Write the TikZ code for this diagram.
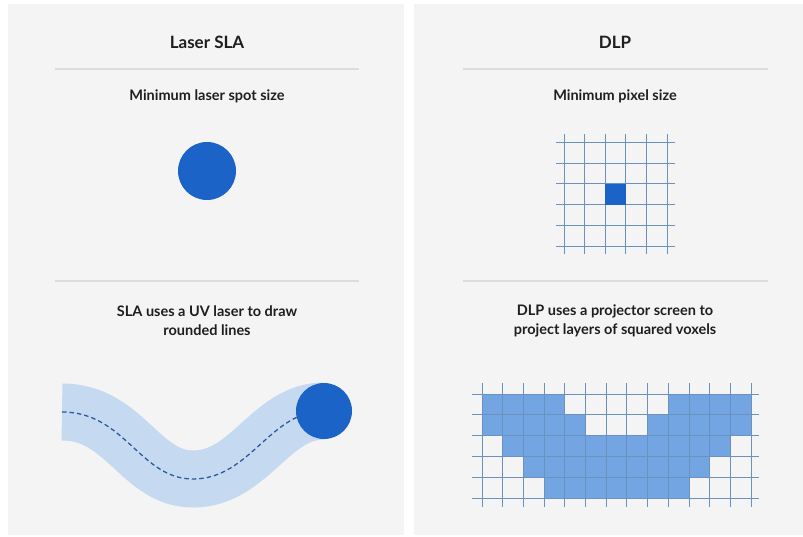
\documentclass[tikz,border=0pt]{standalone}
\usepackage{fontspec}
\setmainfont{Lato}
\definecolor{panel}{HTML}{F4F4F4}
\definecolor{rule}{HTML}{DCDCDC}
\definecolor{ink}{HTML}{1E1E1E}
\definecolor{deepblue}{HTML}{1B63C6}
\definecolor{gridblue}{HTML}{6A92C0}
\definecolor{voxel}{HTML}{73A5E2}
\definecolor{bandblue}{HTML}{C5DAF0}
\definecolor{dashblue}{HTML}{2D5A9C}
\begin{document}
\begin{tikzpicture}[x=1pt,y=-1pt,
  heading/.style={font=\bfseries\fontsize{17}{20}\selectfont, text=ink, inner sep=0pt},
  caption/.style={font=\bfseries\fontsize{14.5}{19}\selectfont, text=ink, inner sep=0pt, align=center},
  divider/.style={draw=rule, line width=1.5pt},
  dot/.style={circle, fill=deepblue, inner sep=0pt, minimum size=58pt},
  gridline/.style={draw=gridblue, line width=0.9pt},
]
\useasboundingbox (0,0) rectangle (803,537);
\fill[white] (0,0) rectangle (803,537);
% panels
\fill[panel] (8,4) rectangle (404,535);
\fill[panel] (414,4) rectangle (803,535);

% headings
\node[heading] (h1) at (207,42) {Laser SLA};
\node[heading] (h2) at (615,42) {DLP};
\coordinate (r1a) at (55,69);  \coordinate (r1b) at (359,69);
\coordinate (r2a) at (463,69); \coordinate (r2b) at (768,69);
\draw[divider] (r1a) -- (r1b);
\draw[divider] (r2a) -- (r2b);

\node[caption] (s1) at (207,96) {Minimum laser spot size};
\node[caption] (s2) at (615,96) {Minimum pixel size};

% laser spot
\node[dot] (spot) at (207,171) {};

% small grid
\foreach \i in {0,...,5} {
  \draw[gridline] ({564+\i*20.6},134) -- ({564+\i*20.6},254);
  \draw[gridline] (556,{142.5+\i*20.7}) -- (675,{142.5+\i*20.7});
}
\node[fill=deepblue, inner sep=0pt, minimum width=20.6pt, minimum height=20.7pt] (pixel) at ({564+2.5*20.6},{142.5+2.5*20.7}) {};

% second dividers
\coordinate (r3a) at (55,281);  \coordinate (r3b) at (359,281);
\coordinate (r4a) at (463,281); \coordinate (r4b) at (768,281);
\draw[divider] (r3a) -- (r3b);
\draw[divider] (r4a) -- (r4b);

\node[caption] (d1) at (207,320.5) {SLA uses a UV laser to draw\\rounded lines};
\node[caption] (d2) at (615,320.5) {DLP uses a projector screen to\\project layers of squared voxels};

% SLA band
\coordinate (tippt) at (324,411);
\coordinate (bandstart) at (62,412);
\coordinate (bandlow) at (193,479);
\draw[bandblue, line width=57pt] (bandstart) .. controls (125,412) and (140,479) .. (bandlow) .. controls (250,479) and (270,411) .. (tippt);
\draw[dashblue, line width=1.3pt, dash pattern=on 4.5pt off 3pt] (bandstart) .. controls (125,412) and (140,479) .. (bandlow) .. controls (250,479) and (270,411) .. (tippt);
\node[dot, minimum size=56pt] (tip) at (tippt) {};

% voxel grid
\def\gx{482}\def\gdx{20.7}\def\gy{394}\def\gdy{20.8}
\foreach \r/\a/\b in {0/0/3, 0/9/12, 1/0/4, 1/8/12, 2/1/11, 3/2/10, 4/3/9} {
  \fill[voxel] ({\gx+\a*\gdx},{\gy+\r*\gdy}) rectangle ({\gx+(\b+1)*\gdx},{\gy+(\r+1)*\gdy});
}
\foreach \i in {0,...,13} {
  \draw[gridline] ({\gx+\i*\gdx},383) -- ({\gx+\i*\gdx},507);
}
\foreach \j in {0,...,5} {
  \draw[gridline] (472,{\gy+\j*\gdy}) -- (759,{\gy+\j*\gdy});
}
\end{tikzpicture}
\end{document}
